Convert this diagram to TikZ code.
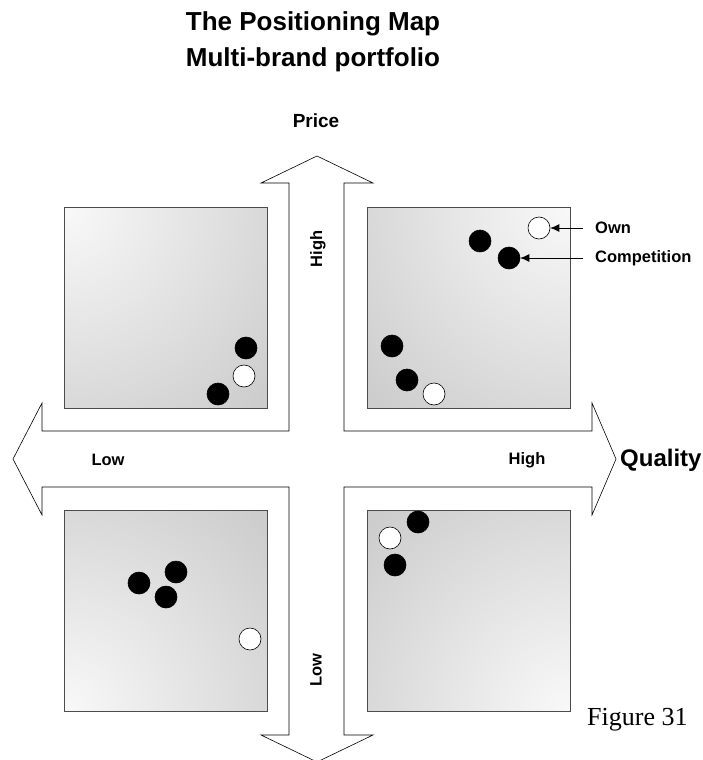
\documentclass[tikz,border=0pt]{standalone}
\usepackage{fontspec}
\setmainfont{Liberation Sans}
\newfontfamily\figserif{Liberation Serif}
\usetikzlibrary{arrows.meta}

\begin{document}
\begin{tikzpicture}[x=1pt,y=-1pt]
    \tikzstyle{axislbl}=[font=\bfseries\fontsize{16.5}{19}\selectfont, inner sep=0pt]
    \tikzstyle{brand}=[circle, minimum size=22pt, inner sep=0pt, draw=black, line width=0.6pt]
    \tikzstyle{comp}=[brand, fill=black]
    \tikzstyle{own}=[brand, fill=white]
    \tikzstyle{pane}=[draw=black!70, line width=0.8pt]
    \tikzstyle{pointer}=[-{Latex[length=9pt,width=8pt]}, line width=0.8pt]
    \useasboundingbox (0,0) rectangle (702,760);
    \foreach \xa/\ya/\cx/\cy in {64/207/64/207, 367/207/569/207, 64/510/64/712, 367/510/569/712} {
      \begin{scope}
        \clip (\xa,\ya) rectangle +(203,201);
        \shade[inner color=gray!5, outer color=gray!55] (\cx,\cy) circle (400pt);
      \end{scope}
      \draw[pane] (\xa,\ya) rectangle +(203,201);
    }
    \draw[fill=white, line width=0.6pt] (317,156) -- (373,183) -- (344,183) -- (344,431) -- (592,431) -- (592,403)
      -- (616,459) -- (592,515) -- (592,487) -- (344,487) -- (344,735) -- (373,735) -- (317,762) -- (261,735)
      -- (289,735) -- (289,487) -- (42,487) -- (42,515) -- (13,459) -- (42,403) -- (42,431) -- (289,431)
      -- (289,183) -- (261,183) -- cycle;
    \node[font=\bfseries\fontsize{26}{36}\selectfont, align=center] (title) at (313,42) {The Positioning Map\\Multi-brand portfolio};
    \node[font=\bfseries\fontsize{19}{22}\selectfont] (price) at (316,121) {Price};
    \node[font=\bfseries\fontsize{24}{28}\selectfont, anchor=west, inner sep=0pt] (quality) at (620,460) {Quality};
    \node[axislbl] (qhigh) at (527,460) {High};
    \node[axislbl] (qlow) at (108,460) {Low};
    \node[axislbl, rotate=90] (phigh) at (318,249) {High};
    \node[axislbl, rotate=90] (plow) at (316,670) {Low};
    \node[own] (ur1) at (539,228) {};
    \node[comp] (ur2) at (480,241) {};
    \node[comp] (ur3) at (509,258) {};
    \node[comp] (ur4) at (392,346) {};
    \node[comp] (ur5) at (407,380) {};
    \node[own] (ur6) at (434,394) {};
    \node[comp] (ul1) at (246,348) {};
    \node[own] (ul2) at (244,376) {};
    \node[comp] (ul3) at (218,394) {};
    \node[comp] (ll1) at (139,583) {};
    \node[comp] (ll2) at (176,572) {};
    \node[comp] (ll3) at (166,597) {};
    \node[own] (ll4) at (250,639) {};
    \node[comp] (lr1) at (418,522) {};
    \node[own] (lr2) at (390,538) {};
    \node[comp] (lr3) at (395,565) {};
    \node[axislbl, anchor=west] (ownlbl) at (595,228) {Own};
    \node[axislbl, anchor=west] (complbl) at (595,258) {Competition};
    \draw[pointer] ([xshift=-12pt]ownlbl.west) -- (ur1);
    \draw[pointer] ([xshift=-12pt]complbl.west) -- (ur3);
    \node[font=\figserif\fontsize{26}{30}\selectfont, anchor=west, inner sep=0pt] (fig) at (587,720) {Figure 31};
\end{tikzpicture}
\end{document}
